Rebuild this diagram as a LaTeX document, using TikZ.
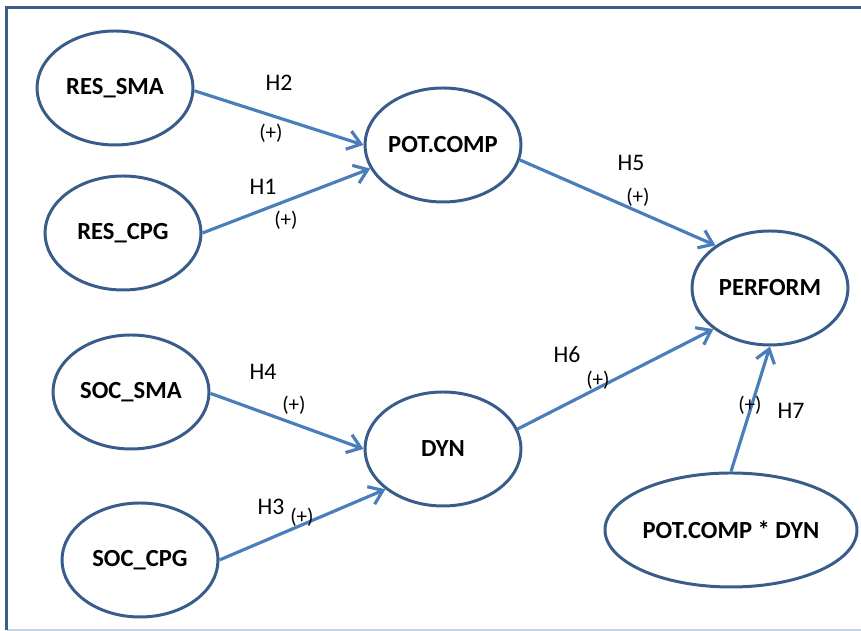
\documentclass[tikz,border=0pt]{standalone}
\usepackage{fontspec}
\setmainfont{Carlito}
\usetikzlibrary{arrows.meta,shapes.geometric}
\definecolor{rimblue}{HTML}{385D8A}
\definecolor{linkblue}{HTML}{4A7EBB}
\definecolor{edgegray}{HTML}{C3D3E4}

\begin{document}
\begin{tikzpicture}[
	construct/.style={ellipse, draw=rimblue, line width=1.7pt, minimum width=3.12cm, minimum height=2.28cm, inner sep=0pt, font=\fontsize{14}{16}\selectfont\bfseries},
	link/.style={draw=linkblue, line width=1.8pt, -{Straight Barb[length=2.6mm,width=3.8mm]}},
	hyp/.style={inner sep=0pt, font=\fontsize{13.5}{16}\selectfont},
	sign/.style={inner sep=0pt, font=\fontsize{12}{14}\selectfont}
	]
			%%%%% START %%%%%
			
			\useasboundingbox (0, 0) rectangle (17.22, 12.62);
			
			% frame
			\draw[edgegray, line width=0.8pt] (0.13, 0.02) -- (17.3, 0.02);
			\draw[rimblue, line width=1.7pt] (0.13, 0.02) -- (0.13, 12.47) -- (17.3, 12.47);
			
			% constructs
			\node[construct] (ressma) at (2.30, 10.86) {RES\_SMA};
			\node[construct] (rescpg) at (2.46, 7.96) {RES\_CPG};
			\node[construct] (potcomp) at (8.86, 9.72) {POT.COMP};
			\node[construct] (perform) at (15.40, 6.86) {PERFORM};
			\node[construct] (socsma) at (2.62, 4.78) {SOC\_SMA};
			\node[construct] (soccpg) at (2.80, 1.42) {SOC\_CPG};
			\node[construct] (dyn) at (8.86, 3.64) {DYN};
			\node[construct, minimum width=5.04cm] (moder) at (14.62, 2.02) {POT.COMP * DYN};
			
			% paths
			\draw[link] (ressma.-2) -- (potcomp.west);
			\draw[link] (rescpg.east) -- (potcomp.198);
			\draw[link] (potcomp.-11) -- (perform.142);
			\draw[link] (socsma.-1) -- (dyn.west);
			\draw[link] (soccpg.east) -- (dyn.215);
			\draw[link] (dyn.15) -- (perform.216);
			\draw[link] (moder.north) -- (perform.south);
			
			% hypotheses
			\node[hyp] (h2) at (5.58, 10.96) {H2};
			\node[sign] (s2) at (5.42, 9.96) {(+)};
			\node[hyp] (h1) at (5.26, 8.88) {H1};
			\node[sign] (s1) at (5.72, 8.22) {(+)};
			\node[hyp] (h5) at (12.62, 9.36) {H5};
			\node[sign] (s5) at (12.76, 8.68) {(+)};
			\node[hyp] (h4) at (5.26, 5.18) {H4};
			\node[sign] (s4) at (5.88, 4.52) {(+)};
			\node[hyp] (h3) at (5.42, 2.48) {H3};
			\node[sign] (s3) at (6.04, 2.28) {(+)};
			\node[hyp] (h6) at (11.34, 5.52) {H6};
			\node[sign] (s6) at (11.96, 5.02) {(+)};
			\node[sign] (s7) at (15.00, 4.52) {(+)};
			\node[hyp] (h7) at (15.82, 4.40) {H7};
			
			%%%%% END %%%%%
\end{tikzpicture}
\end{document}
